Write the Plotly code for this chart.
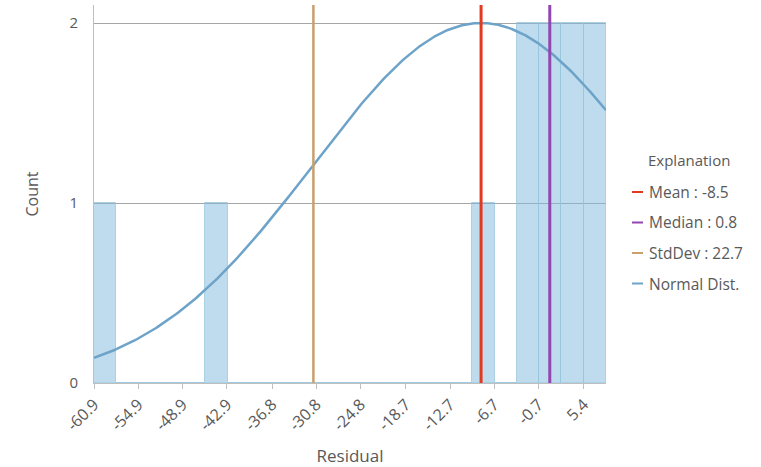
import numpy as np
import plotly.graph_objects as go

# Histogram of residuals: bins start at the lowest residual, fixed width
bin_start = -60.9
bin_width = 3.0136
bin_counts = [1, 0, 0, 0, 0, 1, 0, 0, 0, 0, 0, 0,
              0, 0, 0, 0, 0, 1, 0, 2, 2, 2, 2]

# Summary statistics
mean_val = -8.5
median_val = 0.8
std_val = 22.7

# Axis tick labels (every second bin edge)
tick_labels = ["-60.9", "-54.9", "-48.9", "-42.9", "-36.8", "-30.8",
               "-24.8", "-18.7", "-12.7", "-6.7", "-0.7", "5.4"]

legend_items = [
    ("Mean : -8.5", "#e2391f"),
    ("Median : 0.8", "#9346b0"),
    ("StdDev : 22.7", "#c9a06b"),
    ("Normal Dist.", "#6ea3c9"),
]

n_bins = len(bin_counts)
edges = bin_start + bin_width * np.arange(n_bins + 1)
centers = (edges[:-1] + edges[1:]) / 2
x_min, x_max = edges[0], edges[-1]
y_top = 2.1
peak = max(bin_counts)

fig = go.Figure()

# Semi-transparent bars so the grid shows through them
fig.add_trace(go.Bar(
    x=centers, y=bin_counts, width=bin_width,
    marker=dict(color="rgba(125,186,219,0.5)",
                line=dict(color="rgba(150,196,222,0.7)", width=1)),
    showlegend=False, hoverinfo="x+y",
))

# Normal curve scaled so its peak equals the tallest bin
xs = np.linspace(x_min, x_max, 300)
ys = peak * np.exp(-0.5 * ((xs - mean_val) / std_val) ** 2)
fig.add_trace(go.Scatter(
    x=xs, y=ys, mode="lines",
    line=dict(color="#6ea3c9", width=2.5),
    showlegend=False, hoverinfo="skip",
))

# Vertical reference lines
for xv, col, w in [(mean_val - std_val, "#c9a06b", 2.5),
                   (mean_val, "#e2391f", 3),
                   (median_val, "#9346b0", 3)]:
    fig.add_trace(go.Scatter(
        x=[xv, xv], y=[0, y_top], mode="lines",
        line=dict(color=col, width=w),
        showlegend=False, hoverinfo="skip",
    ))

W, H = 761, 467
ml, mr, mt, mb = 94, 155, 5, 84
pw, ph = W - ml - mr, H - mt - mb


def px(xp):
    return (xp - ml) / pw


def py(yp):
    return (H - mb - yp) / ph


annotations = [dict(
    text="Explanation", x=px(646), y=py(160), xref="paper", yref="paper",
    xanchor="left", yanchor="middle", showarrow=False,
    font=dict(size=15, color="#595959"),
)]
shapes = []
for i, (label, col) in enumerate(legend_items):
    yy = 192 + i * 30.5
    annotations.append(dict(
        text=label, x=px(647), y=py(yy), xref="paper", yref="paper",
        xanchor="left", yanchor="middle", showarrow=False,
        font=dict(size=15.5, color="#595959"),
    ))
    shapes.append(dict(
        type="line", xref="paper", yref="paper",
        x0=px(632), x1=px(643), y0=py(yy), y1=py(yy),
        line=dict(color=col, width=2),
    ))

fig.update_layout(
    width=W, height=H,
    margin=dict(l=ml, r=mr, t=mt, b=mb),
    plot_bgcolor="white", paper_bgcolor="white",
    font=dict(family="Open Sans", color="#595959", size=14),
    bargap=0,
    annotations=annotations,
    shapes=shapes,
    xaxis=dict(
        range=[x_min, x_max],
        tickvals=[float(t) for t in tick_labels],
        ticktext=tick_labels,
        tickangle=-45,
        ticks="outside", ticklen=5, tickcolor="#bfbfbf",
        showgrid=False, zeroline=False,
        showline=True, linecolor="#bfbfbf", linewidth=1,
        automargin=False,
        tickfont=dict(size=16, color="#595959"),
        title=dict(text="Residual", font=dict(size=17, color="#595959"), standoff=20),
    ),
    yaxis=dict(
        range=[0, y_top],
        tickvals=[0, 1, 2],
        showgrid=True, gridcolor="#a6a6a6", gridwidth=1,
        zeroline=False,
        showline=True, linecolor="#bfbfbf", linewidth=1,
        automargin=False,
        ticks="", ticklabelstandoff=12,
        tickfont=dict(size=15, color="#595959"),
        title=dict(text="Count", font=dict(size=16, color="#595959"), standoff=26),
    ),
)

fig.write_html("out.html")
